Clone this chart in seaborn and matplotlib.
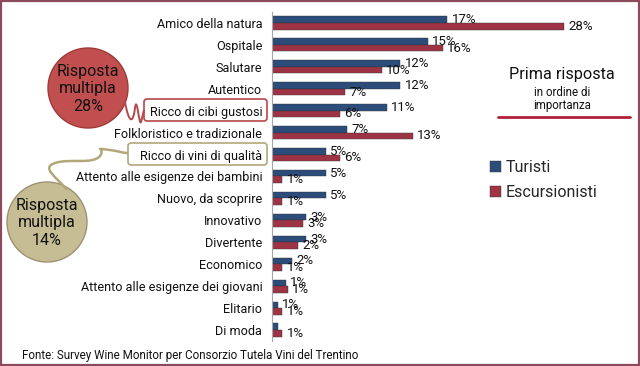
import numpy as np
import pandas as pd
import matplotlib
matplotlib.use("Agg")
import matplotlib.pyplot as plt
import matplotlib.patches as mpatches
from matplotlib.path import Path
import seaborn as sns

# ── Data ────────────────────────────────────────────────────────────────────
categories = [
    "Amico della natura", "Ospitale", "Salutare", "Autentico",
    "Ricco di cibi gustosi", "Folkloristico e tradizionale",
    "Ricco di vini di qualità", "Attento alle esigenze dei bambini",
    "Nuovo, da scoprire", "Innovativo", "Divertente", "Economico",
    "Attento alle esigenze dei giovani", "Elitario", "Di moda",
]
turisti = [16.8, 14.9, 12.3, 12.3, 11.0, 7.2, 5.2, 5.2, 5.2, 3.3, 3.3, 1.9, 1.3, 0.6, 0.6]
escursionisti = [28.0, 16.4, 10.5, 7.0, 6.5, 13.5, 6.5, 1.0, 1.0, 3.0, 2.5, 1.0, 1.5, 1.0, 1.0]
turisti_lbl = ["17%", "15%", "12%", "12%", "11%", "7%", "5%", "5%", "5%",
               "3%", "3%", "2%", "1%", "1%", ""]
escursionisti_lbl = ["28%", "16%", "10%", "7%", "6%", "13%", "6%", "1%", "1%",
                     "3%", "2%", "1%", "1%", "1%", "1%"]
series = ["Turisti", "Escursionisti"]

BLUE = "#1f4a87"
RED = "#b0213a"
BORDER = "#8c4a5c"
TEXT = "#111111"

df = pd.DataFrame({
    "cat": categories * 2,
    "val": turisti + escursionisti,
    "serie": [series[0]] * len(categories) + [series[1]] * len(categories),
})

sns.set_style("white")
plt.rcParams["font.family"] = ["Roboto", "DejaVu Sans"]

fig = plt.figure(figsize=(6.4, 3.66), dpi=100)
fig.patch.set_facecolor("white")
ax = fig.add_axes([272 / 640, 1 - 341 / 366, 348 / 640, 329 / 366])

sns.barplot(data=df, y="cat", x="val", hue="serie", hue_order=series,
            order=categories, orient="h", palette=[BLUE, RED], width=0.6,
            edgecolor="#333333", linewidth=0.3, ax=ax, legend=True)

for cont, lbls in zip(ax.containers, [turisti_lbl, escursionisti_lbl]):
    ax.bar_label(cont, labels=lbls, padding=3, fontsize=9.5, color=TEXT)

ax.set_xlim(0, 348 / 10.44)
ax.set_xlabel("")
ax.set_ylabel("")
ax.set_xticks([])
ax.tick_params(axis="y", which="major", length=0, pad=7, labelsize=9.1,
               labelcolor=TEXT)
ax.set_yticks(np.arange(-0.5, len(categories), 1), minor=True)
ax.tick_params(axis="y", which="minor", length=4, color="#a6a6a6", width=0.8)
for s in ["top", "right", "bottom"]:
    ax.spines[s].set_visible(False)
ax.spines["left"].set_color("#a6a6a6")
ax.spines["left"].set_linewidth(0.8)

leg = ax.legend(loc="upper left", bbox_to_anchor=(484 / 640, 1 - 154 / 366),
                bbox_transform=fig.transFigure, frameon=False,
                prop={"size": 11.5},
                handlelength=0.65, handleheight=0.65, handletextpad=0.3,
                labelspacing=0.6, borderaxespad=0)

# ── Overlay in pixel coordinates for annotations ───────────────────────────
ov = fig.add_axes([0, 0, 1, 1], zorder=5)
ov.set_xlim(0, 640)
ov.set_ylim(366, 0)
ov.axis("off")
ov.patch.set_alpha(0)

ov.add_patch(mpatches.Rectangle((1, 1), 638, 364, fill=False,
                                edgecolor=BORDER, linewidth=1.6))

# callout boxes around the two labels
ov.add_patch(mpatches.FancyBboxPatch((144, 99), 123, 22,
                                     boxstyle="round,pad=0,rounding_size=3",
                                     fill=False, edgecolor="#b5474b", linewidth=1.2))
ov.add_patch(mpatches.FancyBboxPatch((128, 143), 139, 22,
                                     boxstyle="round,pad=0,rounding_size=3",
                                     fill=False, edgecolor="#b3a77a", linewidth=1.2))

# bubbles
ov.add_patch(mpatches.Circle((88, 88), 40, facecolor="#c14f4f",
                             edgecolor="#9e3a3a", linewidth=1.0))
ov.text(88, 89, "Risposta\nmultipla\n28%", ha="center", va="center",
        fontsize=11.5, color=TEXT, linespacing=1.2)
ov.add_patch(mpatches.Circle((47, 222), 40, facecolor="#c6bd95",
                             edgecolor="#9c9272", linewidth=1.0))
ov.text(47, 223, "Risposta\nmultipla\n14%", ha="center", va="center",
        fontsize=11.5, color=TEXT, linespacing=1.2)

# wavy connectors
red_path = Path([(125, 102), (129, 124), (133, 124), (135, 108),
                 (137, 94), (139, 126), (141, 122), (144, 110)],
                [Path.MOVETO, Path.CURVE4, Path.CURVE4, Path.CURVE4,
                 Path.CURVE4, Path.CURVE4, Path.CURVE4, Path.LINETO])
ov.add_patch(mpatches.PathPatch(red_path, fill=False, edgecolor="#b5474b",
                                linewidth=1.4))
tan_path = Path([(67, 190), (58, 178), (40, 168), (55, 163),
                 (70, 158), (92, 165), (100, 156),
                 (106, 148), (92, 148), (110, 150),
                 (118, 151), (122, 153), (128, 153)],
                [Path.MOVETO, Path.CURVE4, Path.CURVE4, Path.CURVE4,
                 Path.CURVE4, Path.CURVE4, Path.CURVE4,
                 Path.CURVE4, Path.CURVE4, Path.CURVE4,
                 Path.CURVE4, Path.CURVE4, Path.CURVE4])
ov.add_patch(mpatches.PathPatch(tan_path, fill=False, edgecolor="#b3a77a",
                                linewidth=1.8))

# side note
ov.text(562, 75, "Prima risposta", ha="center", va="center", fontsize=11.7,
        color=TEXT)
ov.text(562, 93, "in ordine di", ha="center", va="center", fontsize=8.3,
        color=TEXT)
ov.text(562, 106, "importanza", ha="center", va="center", fontsize=8.3,
        color=TEXT)
ov.plot([498, 630], [117, 117], color=RED, linewidth=2)

ov.text(22, 355, "Fonte: Survey Wine Monitor per Consorzio Tutela Vini del Trentino",
        ha="left", va="center", fontsize=8.4, color=TEXT)

fig.savefig("out.png", dpi=100, facecolor="white")
